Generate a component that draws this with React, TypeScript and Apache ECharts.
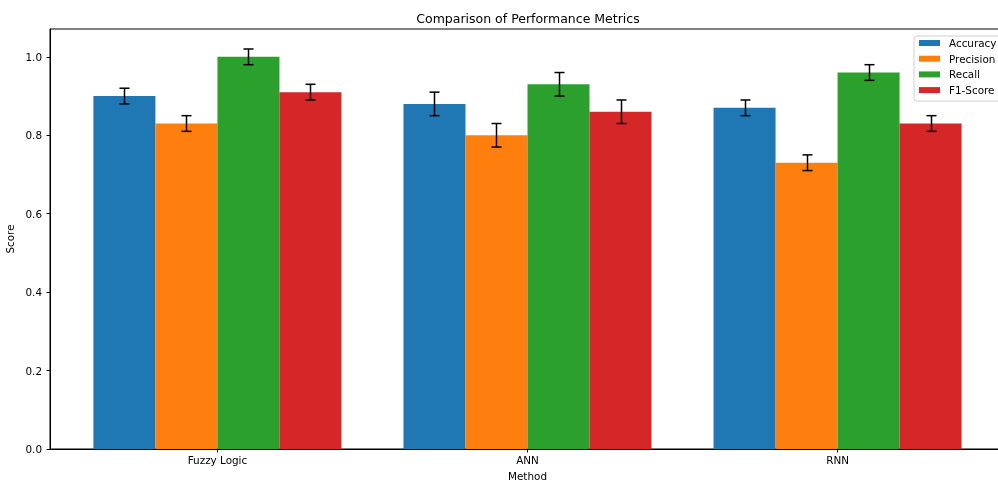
import React, { useEffect, useRef } from "react";
import * as echarts from "echarts";

const categories = ["Fuzzy Logic", "ANN", "RNN"];
const metrics = ["Accuracy", "Precision", "Recall", "F1-Score"];
const accuracy = [0.9, 0.88, 0.87];
const precision = [0.83, 0.8, 0.73];
const recall = [1.0, 0.93, 0.96];
const f1Score = [0.91, 0.86, 0.83];
const accuracyErr = [0.02, 0.03, 0.02];
const precisionErr = [0.02, 0.03, 0.02];
const recallErr = [0.02, 0.03, 0.02];
const f1ScoreErr = [0.02, 0.03, 0.02];
const yTicks = [0, 0.2, 0.4, 0.6, 0.8, 1.0];
const xTicks = [0, 1, 2];

const colors = ["#1f77b4", "#ff7f0e", "#2ca02c", "#d62728"];
const FONT = "DejaVu Sans";
const BAR_W = 0.2;

export default function App() {
  const ref = useRef<HTMLDivElement>(null);
  useEffect(() => {
    if (!ref.current) return;
    const chart = echarts.init(ref.current, null, { renderer: "svg" });
    const values = [accuracy, precision, recall, f1Score];
    const errs = [accuracyErr, precisionErr, recallErr, f1ScoreErr];

    const barSeries = metrics.map((name, k) => ({
      name,
      type: "custom",
      itemStyle: { color: colors[k] },
      data: values[k].map((v, i) => [i, v]),
      encode: { x: 0, y: 1 },
      z: 2,
      clip: false,
      renderItem: (params: any, api: any) => {
        const i = api.value(0);
        const v = api.value(1);
        const off = (k - 1.5) * BAR_W;
        const p0 = api.coord([i + off - BAR_W / 2, v]);
        const p1 = api.coord([i + off + BAR_W / 2, 0]);
        return {
          type: "rect",
          shape: { x: p0[0], y: p0[1], width: p1[0] - p0[0], height: p1[1] - p0[1] },
          style: { fill: colors[k] },
        };
      },
    }));

    const errSeries = metrics.map((name, k) => ({
      name: name + " err",
      type: "custom",
      data: values[k].map((v, i) => [i, v, errs[k][i]]),
      encode: { x: 0, y: 1 },
      z: 5,
      clip: false,
      renderItem: (params: any, api: any) => {
        const i = api.value(0);
        const v = api.value(1);
        const e = api.value(2);
        const off = (k - 1.5) * BAR_W;
        const top = api.coord([i + off, v + e]);
        const bot = api.coord([i + off, v - e]);
        const cx = Math.round(top[0]) + 0.5;
        const cap = 5;
        const st = { stroke: "#000", lineWidth: 1.5 };
        return {
          type: "group",
          children: [
            { type: "line", shape: { x1: cx, y1: top[1], x2: cx, y2: bot[1] }, style: st },
            { type: "line", shape: { x1: cx - cap, y1: top[1], x2: cx + cap, y2: top[1] }, style: st },
            { type: "line", shape: { x1: cx - cap, y1: bot[1], x2: cx + cap, y2: bot[1] }, style: st },
          ],
        };
      },
    }));

    chart.setOption({
      animation: false,
      textStyle: { fontFamily: FONT },
      grid: {
        left: 50,
        top: 29,
        bottom: 33,
        right: -7,
        containLabel: false,
        outerBoundsMode: "none",
        show: true,
        borderColor: "#000",
        borderWidth: 1,
        backgroundColor: "transparent",
      },
      graphic: [
        {
          type: "text",
          x: 528,
          y: 18,
          style: {
            text: "Comparison of Performance Metrics",
            fontFamily: FONT,
            fontSize: 12.5,
            fill: "#000",
            textAlign: "center",
            textVerticalAlign: "middle",
          },
        },
      ],
      legend: {
        data: metrics,
        orient: "vertical",
        left: 914,
        top: 36,
        padding: [2, 8, 6, 5],
        itemWidth: 21,
        itemHeight: 6,
        itemGap: 5.7,
        icon: "rect",
        backgroundColor: "rgba(255,255,255,0.8)",
        borderColor: "#d0d0d0",
        borderWidth: 1,
        borderRadius: 3,
        textStyle: { fontFamily: FONT, fontSize: 10.4, color: "#000", padding: [0, 0, 0, 4] },
      },
      xAxis: {
        type: "value",
        min: -0.54,
        max: 2.54,
        name: "Method",
        nameLocation: "middle",
        nameGap: 22,
        nameTextStyle: { fontFamily: FONT, fontSize: 10.4, color: "#000" },
        splitLine: { show: false },
        axisLine: { show: true, onZero: false, lineStyle: { color: "#000", width: 1 } },
        axisTick: { show: true, length: 3.5, lineStyle: { color: "#000" }, customValues: xTicks },
        axisLabel: {
          customValues: xTicks,
          margin: 6,
          fontFamily: FONT,
          fontSize: 10.4,
          color: "#000",
          formatter: (v: number) => categories[Math.round(v)] ?? "",
        },
      },
      yAxis: {
        type: "value",
        min: 0,
        max: 1.071,
        name: "Score",
        nameLocation: "middle",
        nameRotate: 90,
        nameGap: 24,
        nameTextStyle: { fontFamily: FONT, fontSize: 10.4, color: "#000" },
        splitLine: { show: false },
        axisLine: { show: true, onZero: false, lineStyle: { color: "#000", width: 1 } },
        axisTick: { show: true, length: 3.5, lineStyle: { color: "#000" }, customValues: yTicks },
        axisLabel: {
          customValues: yTicks,
          margin: 8,
          fontFamily: FONT,
          fontSize: 10.4,
          color: "#000",
          formatter: (v: number) => v.toFixed(1),
        },
      },
      series: [...barSeries, ...errSeries],
    });
    return () => chart.dispose();
  }, []);
  return <div ref={ref} style={{ width: 998, height: 482, position: "fixed", left: 0, top: 0 }} />;
}
